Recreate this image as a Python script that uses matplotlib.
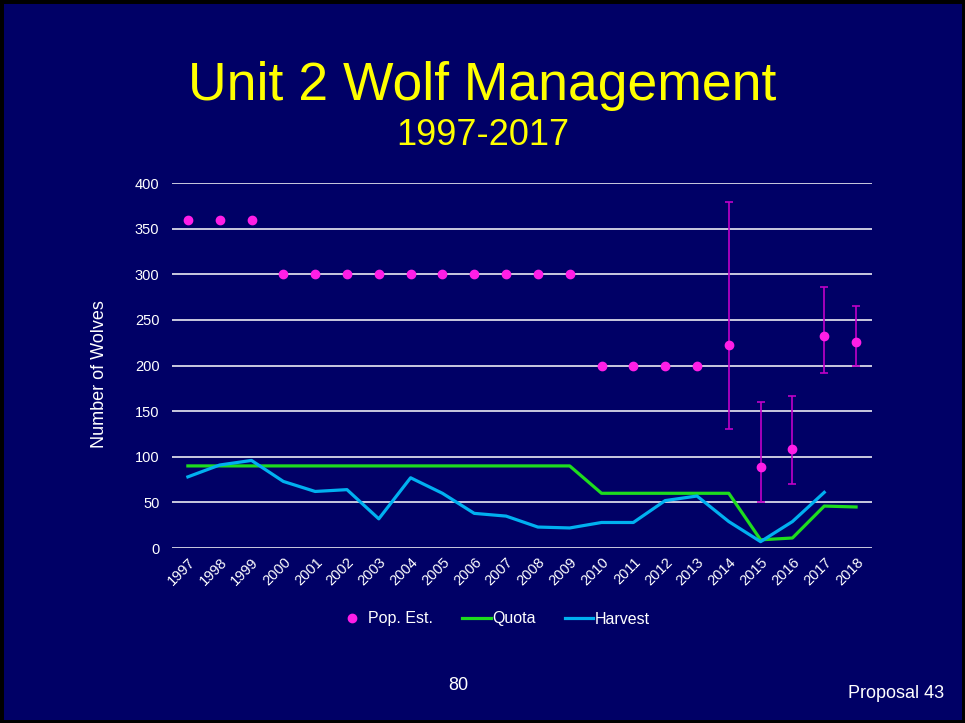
import numpy as np
import matplotlib.pyplot as plt
from matplotlib.lines import Line2D
from matplotlib.patches import Rectangle

plt.rcParams['font.family'] = ['Liberation Sans', 'DejaVu Sans']

years = [str(y) for y in range(1997, 2019)]

# population estimates (with confidence ranges for the later years)
pop_est = [360, 360, 360, 300, 300, 300, 300, 300, 300, 300, 300, 300, 300,
           200, 200, 200, 200, 222, 89, 109, 232, 226]
pop_low = [None] * 17 + [131, 50, 70, 192, 199]
pop_high = [None] * 17 + [379, 160, 167, 286, 265]

quota = [90] * 13 + [60, 60, 60, 60, 60, 9, 11, 46, 45]
harvest = [78, 91, 96, 73, 62, 64, 32, 77, 60, 38, 35, 23, 22,
           28, 28, 52, 57, 29, 7, 29, 61]

bg = '#000066'
pink = '#ff1ee6'
bar_col = '#c000c8'
green = '#1edc1e'
blue = '#00b0f0'

fig = plt.figure(figsize=(9.65, 7.23), dpi=100)
fig.patch.set_facecolor(bg)
ax = fig.add_axes([0.1782, 0.2420, 0.7254, 0.5048])
ax.set_facecolor(bg)

x = np.arange(len(years))

# error bars first, then the dots on top
for i, (lo, hi) in enumerate(zip(pop_low, pop_high)):
    if lo is None:
        continue
    ax.errorbar(x[i], pop_est[i], yerr=[[pop_est[i] - lo], [hi - pop_est[i]]],
                fmt='none', ecolor=bar_col, elinewidth=1.2, capsize=3,
                capthick=1.2, zorder=3)
ax.plot(x, pop_est, 'o', color=pink, markersize=6, zorder=4)
ax.plot(x[:len(quota)], quota, color=green, lw=2.3, zorder=3)
ax.plot(x[:len(harvest)], harvest, color=blue, lw=2.3, zorder=3)

ax.set_xlim(-0.5, len(years) - 0.5)
ax.set_ylim(0, 400)
ax.set_yticks(range(0, 401, 50))
ax.yaxis.grid(True, color='white', lw=1.1)
ax.set_axisbelow(True)
ax.set_xticks(x)
ax.set_xticklabels(years, rotation=45, ha='right', rotation_mode='anchor')
ax.tick_params(colors='white', labelsize=10.5, length=0)
ax.tick_params(axis='y', pad=9)
ax.tick_params(axis='x', pad=5)
for s in ax.spines.values():
    s.set_visible(False)
fig.text(100 / 965, 1 - 374 / 723, 'Number of Wolves', color='white',
         fontsize=13, rotation=90, ha='center', va='center')

handles = [
    Line2D([], [], marker='o', ls='none', color=pink, markersize=6),
    Line2D([], [], color=green, lw=2.3),
    Line2D([], [], color=blue, lw=2.3),
]
fig.legend(handles, ['Pop. Est.', 'Quota', 'Harvest'], loc='center',
           bbox_to_anchor=(0.512, 1 - 619 / 723), ncol=3, frameon=False,
           fontsize=11.5, labelcolor='white', handlelength=1.8,
           handletextpad=0.1, columnspacing=1.8)

fig.text(0.5, 1 - 100 / 723, 'Unit 2 Wolf Management', color='#ffff00',
         fontsize=38.5, ha='center', va='baseline')
fig.text(483 / 965, 1 - 145 / 723, '1997-2017', color='#ffff00',
         fontsize=26, ha='center', va='baseline')
fig.text(458 / 965, 1 - 686 / 723, '80', color='white', fontsize=13,
         ha='center', va='center')
fig.text(944 / 965, 1 - 693 / 723, 'Proposal 43', color='white', fontsize=13,
         ha='right', va='center')

fig.add_artist(Rectangle((0, 0), 1, 1, transform=fig.transFigure, fill=False,
                         edgecolor='black', lw=5))

fig.savefig('out.png', dpi=100, facecolor=bg)
